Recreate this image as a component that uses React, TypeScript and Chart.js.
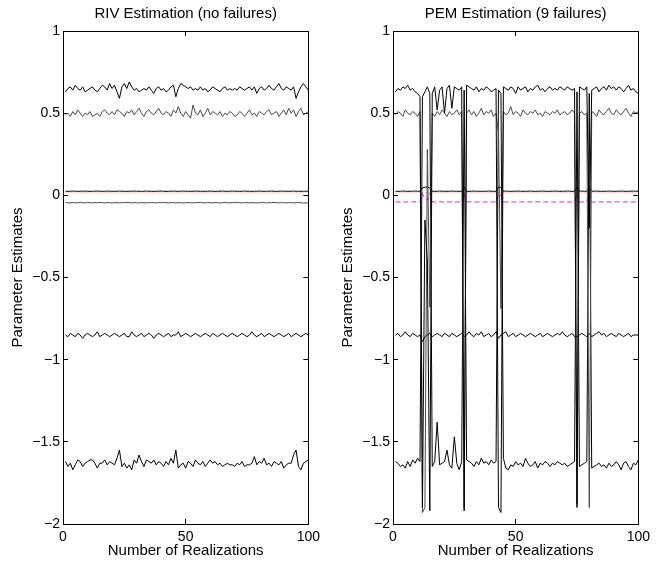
import React, { useEffect, useRef } from 'react';
import { Chart, registerables } from 'chart.js';

Chart.register(...registerables);

const FONT = '"Liberation Sans", Arial, Helvetica, sans-serif';

const PANEL_TITLES = ['RIV Estimation (no failures)', 'PEM Estimation (9 failures)'];
const X_TITLE = 'Number of Realizations';
const Y_TITLE = 'Parameter Estimates';
const X_TICKS = [0, 50, 100];
const Y_TICKS = [-2, -1.5, -1, -0.5, 0, 0.5, 1];

const REALIZATIONS = Array.from({ length: 100 }, (_, i) => i + 1);

// reference (true) value line
const TRUE_C = 0.015;

// ---------- RIV (left) ----------
const RIV_A = [
  0.63, 0.65, 0.66, 0.64, 0.67, 0.65, 0.64, 0.66, 0.63, 0.64,
  0.65, 0.66, 0.64, 0.63, 0.65, 0.67, 0.66, 0.64, 0.68, 0.65,
  0.67, 0.63, 0.59, 0.66, 0.68, 0.65, 0.69, 0.66, 0.64, 0.65,
  0.63, 0.64, 0.65, 0.64, 0.66, 0.64, 0.62, 0.65, 0.66, 0.64,
  0.65, 0.63, 0.64, 0.66, 0.67, 0.60, 0.65, 0.68, 0.67, 0.66,
  0.65, 0.66, 0.64, 0.65, 0.64, 0.66, 0.64, 0.65, 0.63, 0.64,
  0.66, 0.65, 0.64, 0.63, 0.65, 0.66, 0.64, 0.65, 0.64, 0.65,
  0.64, 0.66, 0.65, 0.64, 0.65, 0.66, 0.64, 0.66, 0.62, 0.65,
  0.66, 0.64, 0.65, 0.67, 0.65, 0.64, 0.66, 0.68, 0.65, 0.64,
  0.66, 0.65, 0.64, 0.66, 0.59, 0.63, 0.66, 0.68, 0.66, 0.64,
];
const RIV_B = [
  0.49, 0.50, 0.48, 0.51, 0.49, 0.52, 0.50, 0.48, 0.50, 0.49,
  0.51, 0.48, 0.49, 0.50, 0.48, 0.51, 0.52, 0.50, 0.49, 0.51,
  0.49, 0.52, 0.51, 0.50, 0.48, 0.51, 0.50, 0.52, 0.49, 0.51,
  0.53, 0.50, 0.48, 0.51, 0.52, 0.50, 0.49, 0.51, 0.53, 0.50,
  0.49, 0.51, 0.50, 0.48, 0.52, 0.50, 0.54, 0.50, 0.48, 0.51,
  0.49, 0.47, 0.55, 0.50, 0.49, 0.52, 0.48, 0.50, 0.53, 0.49,
  0.51, 0.50, 0.49, 0.51, 0.48, 0.50, 0.49, 0.51, 0.50, 0.48,
  0.49, 0.51, 0.50, 0.48, 0.50, 0.52, 0.49, 0.50, 0.48, 0.51,
  0.50, 0.49, 0.51, 0.52, 0.49, 0.50, 0.51, 0.48, 0.50, 0.52,
  0.49, 0.53, 0.50, 0.52, 0.48, 0.51, 0.53, 0.49, 0.50, 0.51,
];
const RIV_C = [
  0.025, 0.024, 0.025, 0.026, 0.025, 0.024, 0.025, 0.025, 0.026, 0.025,
  0.024, 0.025, 0.025, 0.026, 0.025, 0.024, 0.025, 0.026, 0.025, 0.025,
  0.024, 0.025, 0.026, 0.025, 0.025, 0.024, 0.025, 0.025, 0.026, 0.025,
  0.025, 0.024, 0.025, 0.026, 0.025, 0.025, 0.024, 0.025, 0.025, 0.026,
  0.025, 0.024, 0.025, 0.025, 0.026, 0.025, 0.024, 0.025, 0.026, 0.025,
  0.025, 0.024, 0.025, 0.026, 0.025, 0.025, 0.024, 0.025, 0.025, 0.026,
  0.025, 0.024, 0.025, 0.025, 0.026, 0.025, 0.024, 0.025, 0.026, 0.025,
  0.025, 0.024, 0.025, 0.026, 0.025, 0.025, 0.024, 0.025, 0.025, 0.026,
  0.025, 0.024, 0.025, 0.025, 0.026, 0.025, 0.024, 0.025, 0.026, 0.025,
  0.025, 0.024, 0.025, 0.026, 0.025, 0.025, 0.024, 0.025, 0.025, 0.025,
];
const RIV_D = [
  -0.044, -0.046, -0.045, -0.044, -0.046, -0.045, -0.043, -0.045, -0.046, -0.044,
  -0.045, -0.046, -0.044, -0.045, -0.043, -0.045, -0.046, -0.044, -0.045, -0.046,
  -0.044, -0.045, -0.046, -0.045, -0.044, -0.043, -0.045, -0.046, -0.044, -0.045,
  -0.046, -0.044, -0.045, -0.046, -0.045, -0.044, -0.045, -0.046, -0.044, -0.045,
  -0.043, -0.045, -0.046, -0.044, -0.045, -0.046, -0.044, -0.045, -0.046, -0.045,
  -0.044, -0.045, -0.046, -0.044, -0.045, -0.043, -0.045, -0.046, -0.044, -0.045,
  -0.046, -0.044, -0.045, -0.046, -0.045, -0.044, -0.045, -0.046, -0.044, -0.045,
  -0.043, -0.045, -0.046, -0.044, -0.045, -0.046, -0.044, -0.045, -0.046, -0.045,
  -0.044, -0.045, -0.046, -0.044, -0.045, -0.043, -0.045, -0.046, -0.044, -0.045,
  -0.046, -0.044, -0.045, -0.046, -0.045, -0.044, -0.045, -0.047, -0.046, -0.046,
];
const RIV_E = [
  -0.85, -0.86, -0.84, -0.85, -0.86, -0.84, -0.85, -0.87, -0.85, -0.84,
  -0.85, -0.86, -0.85, -0.83, -0.86, -0.85, -0.84, -0.85, -0.86, -0.85,
  -0.84, -0.85, -0.86, -0.85, -0.84, -0.86, -0.86, -0.83, -0.85, -0.86,
  -0.85, -0.84, -0.86, -0.85, -0.84, -0.85, -0.87, -0.85, -0.84, -0.85,
  -0.86, -0.85, -0.84, -0.86, -0.85, -0.85, -0.83, -0.86, -0.85, -0.84,
  -0.85, -0.86, -0.85, -0.84, -0.85, -0.86, -0.85, -0.84, -0.85, -0.86,
  -0.84, -0.85, -0.86, -0.85, -0.84, -0.85, -0.86, -0.85, -0.84, -0.85,
  -0.86, -0.85, -0.84, -0.85, -0.86, -0.85, -0.83, -0.85, -0.86, -0.85,
  -0.84, -0.86, -0.85, -0.84, -0.85, -0.86, -0.85, -0.84, -0.85, -0.86,
  -0.85, -0.84, -0.86, -0.85, -0.84, -0.85, -0.86, -0.85, -0.84, -0.85,
];
const RIV_F = [
  -1.62, -1.65, -1.63, -1.67, -1.64, -1.61, -1.62, -1.65, -1.63, -1.62,
  -1.61, -1.61, -1.63, -1.66, -1.63, -1.63, -1.61, -1.64, -1.62, -1.63,
  -1.64, -1.60, -1.55, -1.65, -1.63, -1.66, -1.64, -1.67, -1.61, -1.63,
  -1.58, -1.62, -1.65, -1.61, -1.62, -1.63, -1.61, -1.64, -1.62, -1.63,
  -1.65, -1.62, -1.64, -1.60, -1.63, -1.55, -1.66, -1.64, -1.63, -1.66,
  -1.62, -1.63, -1.65, -1.61, -1.63, -1.64, -1.62, -1.65, -1.63, -1.61,
  -1.63, -1.62, -1.64, -1.63, -1.65, -1.64, -1.63, -1.64, -1.64, -1.65,
  -1.63, -1.64, -1.62, -1.65, -1.64, -1.64, -1.63, -1.59, -1.64, -1.62,
  -1.63, -1.60, -1.64, -1.63, -1.65, -1.62, -1.63, -1.64, -1.62, -1.66,
  -1.64, -1.63, -1.63, -1.58, -1.55, -1.65, -1.67, -1.63, -1.62, -1.61,
];

// ---------- PEM (right), failures at 12-15, 29, 43-44, 75, 80 ----------
const PEM_A = [
  0.63, 0.65, 0.64, 0.66, 0.65, 0.67, 0.64, 0.65, 0.63, 0.62,
  0.60, -1.90, -0.15, -0.40, -1.92, 0.62, 0.66, 0.52, 0.64, 0.66,
  0.50, 0.65, 0.67, 0.53, 0.66, 0.65, 0.64, 0.66, -1.92, 0.67,
  0.66, 0.65, 0.64, 0.66, 0.63, 0.65, 0.64, 0.66, 0.65, 0.63,
  0.64, 0.65, -1.90, -1.93, 0.66, 0.65, 0.64, 0.66, 0.65, 0.62,
  0.66, 0.64, 0.65, 0.66, 0.63, 0.65, 0.64, 0.66, 0.67, 0.64,
  0.65, 0.63, 0.65, 0.66, 0.64, 0.65, 0.64, 0.66, 0.65, 0.64,
  0.66, 0.65, 0.64, 0.65, -1.90, 0.66, 0.65, 0.64, 0.66, -0.20,
  0.64, 0.65, 0.66, 0.63, 0.65, 0.66, 0.64, 0.67, 0.65, 0.66,
  0.64, 0.66, 0.65, 0.63, 0.65, 0.67, 0.64, 0.65, 0.63, 0.62,
];
const PEM_B = [
  0.49, 0.51, 0.50, 0.48, 0.52, 0.50, 0.49, 0.51, 0.50, 0.48,
  0.51, -1.93, -1.90, 0.28, -0.68, 0.50, 0.48, 0.51, 0.49, 0.52,
  0.50, 0.48, 0.51, 0.49, 0.50, 0.52, 0.49, 0.51, -1.90, 0.50,
  0.52, 0.49, 0.51, 0.48, 0.50, 0.53, 0.49, 0.51, 0.50, 0.52,
  0.48, 0.50, 0.38, -0.69, 0.51, 0.49, 0.50, 0.54, 0.49, 0.51,
  0.50, 0.48, 0.52, 0.50, 0.49, 0.51, 0.50, 0.52, 0.49, 0.50,
  0.48, 0.51, 0.50, 0.49, 0.51, 0.50, 0.52, 0.49, 0.50, 0.51,
  0.49, 0.50, 0.52, 0.50, -1.88, 0.50, 0.51, 0.49, 0.50, -1.90,
  0.51, 0.50, 0.48, 0.52, 0.50, 0.49, 0.51, 0.53, 0.50, 0.49,
  0.52, 0.50, 0.49, 0.51, 0.53, 0.50, 0.48, 0.51, 0.50, 0.51,
];
const PEM_C = [
  0.025, 0.024, 0.025, 0.026, 0.025, 0.024, 0.025, 0.025, 0.026, 0.025,
  0.025, 0.045, 0.050, 0.050, 0.045, 0.025, 0.024, 0.025, 0.026, 0.025,
  0.025, 0.024, 0.025, 0.026, 0.025, 0.025, 0.024, 0.025, 0.050, 0.025,
  0.024, 0.025, 0.026, 0.025, 0.025, 0.024, 0.025, 0.025, 0.026, 0.025,
  0.024, 0.025, 0.050, 0.048, 0.025, 0.026, 0.025, 0.024, 0.025, 0.025,
  0.026, 0.025, 0.024, 0.025, 0.025, 0.026, 0.025, 0.024, 0.025, 0.025,
  0.026, 0.025, 0.024, 0.025, 0.025, 0.026, 0.025, 0.024, 0.025, 0.025,
  0.026, 0.025, 0.024, 0.025, 0.050, 0.025, 0.026, 0.025, 0.024, 0.050,
  0.025, 0.025, 0.026, 0.025, 0.024, 0.025, 0.025, 0.026, 0.025, 0.024,
  0.025, 0.025, 0.026, 0.025, 0.024, 0.025, 0.025, 0.026, 0.025, 0.025,
];
const PEM_D = [
  -0.040, -0.041, -0.040, -0.039, -0.041, -0.040, -0.041, -0.040, -0.039, -0.040,
  -0.040, 0.010, -0.020, -0.030, 0.010, -0.040, -0.041, -0.040, -0.039, -0.040,
  -0.041, -0.040, -0.040, -0.039, -0.041, -0.040, -0.040, -0.041, 0.010, -0.040,
  -0.039, -0.040, -0.041, -0.040, -0.040, -0.039, -0.041, -0.040, -0.040, -0.041,
  -0.040, -0.040, 0.010, 0.000, -0.040, -0.041, -0.040, -0.039, -0.040, -0.041,
  -0.040, -0.040, -0.039, -0.041, -0.040, -0.040, -0.041, -0.040, -0.039, -0.040,
  -0.041, -0.040, -0.040, -0.039, -0.041, -0.040, -0.040, -0.041, -0.040, -0.039,
  -0.040, -0.041, -0.040, -0.040, 0.010, -0.040, -0.041, -0.040, -0.039, 0.010,
  -0.040, -0.041, -0.040, -0.040, -0.039, -0.041, -0.040, -0.040, -0.041, -0.040,
  -0.039, -0.040, -0.041, -0.040, -0.040, -0.039, -0.041, -0.040, -0.040, -0.041,
];
const PEM_E = [
  -0.85, -0.84, -0.86, -0.85, -0.83, -0.85, -0.86, -0.84, -0.85, -0.86,
  -0.85, -0.89, -0.86, -0.85, -0.84, -0.86, -0.85, -0.84, -0.85, -0.86,
  -0.84, -0.85, -0.86, -0.84, -0.85, -0.86, -0.85, -0.84, -0.86, -0.85,
  -0.83, -0.85, -0.86, -0.84, -0.85, -0.83, -0.86, -0.85, -0.84, -0.86,
  -0.85, -0.83, -0.87, -0.85, -0.84, -0.83, -0.86, -0.85, -0.84, -0.86,
  -0.85, -0.84, -0.85, -0.86, -0.85, -0.84, -0.85, -0.86, -0.85, -0.84,
  -0.86, -0.85, -0.84, -0.85, -0.86, -0.85, -0.84, -0.85, -0.83, -0.85,
  -0.86, -0.85, -0.84, -0.86, -0.86, -0.85, -0.84, -0.85, -0.86, -0.84,
  -0.86, -0.85, -0.84, -0.83, -0.85, -0.84, -0.86, -0.85, -0.84, -0.85,
  -0.86, -0.84, -0.85, -0.86, -0.85, -0.84, -0.86, -0.85, -0.85, -0.85,
];
const PEM_F = [
  -1.62, -1.63, -1.65, -1.64, -1.66, -1.62, -1.65, -1.61, -1.63, -1.60,
  -1.62, 0.60, 0.63, 0.66, 0.62, -1.65, -1.62, -1.38, -1.64, -1.63,
  -1.62, -1.55, -1.64, -1.66, -1.47, -1.63, -1.67, -1.62, 0.64, -1.61,
  -1.62, -1.63, -1.65, -1.62, -1.64, -1.60, -1.63, -1.62, -1.64, -1.61,
  -1.63, -1.62, 0.64, 0.62, -1.60, -1.66, -1.67, -1.64, -1.65, -1.62,
  -1.64, -1.63, -1.65, -1.60, -1.63, -1.65, -1.64, -1.62, -1.66, -1.63,
  -1.64, -1.62, -1.63, -1.65, -1.63, -1.64, -1.62, -1.63, -1.64, -1.63,
  -1.65, -1.64, -1.63, -1.62, 0.63, -1.65, -1.64, -1.63, -1.62, 0.62,
  -1.66, -1.65, -1.64, -1.63, -1.65, -1.64, -1.66, -1.63, -1.65, -1.64,
  -1.62, -1.64, -1.67, -1.63, -1.62, -1.65, -1.67, -1.63, -1.64, -1.61,
];

const toPoints = (vals: number[]) => vals.map((y, i) => ({ x: REALIZATIONS[i], y }));
const constPoints = (v: number) => REALIZATIONS.map((x) => ({ x, y: v }));

function line(vals: number[], color: string, dash: number[] = []) {
  return {
    data: toPoints(vals),
    borderColor: color,
    borderWidth: 1,
    borderDash: dash,
    pointRadius: 0,
    tension: 0,
    fill: false,
    xAxisID: 'x',
    yAxisID: 'y',
  };
}
function refLine(v: number, color: string, dash: number[]) {
  return { ...line([], color, dash), data: constPoints(v) };
}

const fmt = (v: number) => (v < 0 ? '\u2212' + Math.abs(v) : String(v));

function buildOptions(title: string) {
  const tickFont = { family: FONT, size: 14 };
  const grid = { display: true, drawOnChartArea: false, drawTicks: true, tickLength: -5, color: '#000', lineWidth: 1 };
  const border = { display: true, color: '#000', width: 1 };
  return {
    responsive: false,
    animation: false,
    events: [],
    layout: { padding: { left: 0, right: 21, top: 0, bottom: 0 } },
    plugins: {
      legend: { display: false },
      tooltip: { enabled: false },
      title: {
        display: true,
        fullSize: false,
        text: title,
        color: '#000',
        font: { family: FONT, size: 15, weight: 'normal' },
        padding: { top: 5, bottom: 8 },
      },
    },
    scales: {
      x: {
        type: 'linear',
        position: 'bottom',
        min: X_TICKS[0],
        max: X_TICKS[X_TICKS.length - 1],
        afterBuildTicks: (s: any) => { s.ticks = X_TICKS.map((v) => ({ value: v })); },
        ticks: { color: '#000', font: tickFont, padding: 10, maxRotation: 0, autoSkip: false },
        grid,
        border,
        title: { display: true, text: X_TITLE, color: '#000', font: { family: FONT, size: 15 }, padding: { top: 0, bottom: 1 } },
        afterFit: (s: any) => { s.height = 37; },
      },
      x2: {
        type: 'linear',
        position: 'top',
        min: X_TICKS[0],
        max: X_TICKS[X_TICKS.length - 1],
        afterBuildTicks: (s: any) => { s.ticks = X_TICKS.map((v) => ({ value: v })); },
        ticks: { display: false },
        grid,
        border,
        afterFit: (s: any) => { s.height = 0; },
      },
      y: {
        type: 'linear',
        position: 'left',
        min: Y_TICKS[0],
        max: Y_TICKS[Y_TICKS.length - 1],
        afterBuildTicks: (s: any) => { s.ticks = Y_TICKS.map((v) => ({ value: v })); },
        ticks: { color: '#000', font: tickFont, padding: 8, callback: (v: number) => fmt(v) },
        grid,
        border,
        title: { display: true, text: Y_TITLE, color: '#000', font: { family: FONT, size: 15 }, padding: { top: 9, bottom: 0 } },
        afterFit: (s: any) => { s.width = 63; },
      },
      y2: {
        type: 'linear',
        position: 'right',
        min: Y_TICKS[0],
        max: Y_TICKS[Y_TICKS.length - 1],
        afterBuildTicks: (s: any) => { s.ticks = Y_TICKS.map((v) => ({ value: v })); },
        ticks: { display: false },
        grid,
        border,
        afterFit: (s: any) => { s.width = 0; },
      },
    },
  };
}

function Panel({ title, datasets, left }: { title: string; datasets: any[]; left: number }) {
  const ref = useRef<HTMLCanvasElement>(null);
  useEffect(() => {
    if (!ref.current) return;
    const chart = new Chart(ref.current, {
      type: 'line',
      data: { datasets },
      options: buildOptions(title) as any,
    });
    return () => chart.destroy();
  }, []);
  return (
    <canvas
      ref={ref}
      width={330}
      height={561}
      style={{ position: 'absolute', left, top: 0, width: 330, height: 561 }}
    />
  );
}

const GRAY = '#4a4a4a';

export default function App() {
  const rivSets = [
    line(RIV_A, '#000'),
    line(RIV_B, GRAY),
    line(RIV_C, '#000'),
    line(RIV_D, GRAY),
    line(RIV_E, '#000'),
    line(RIV_F, '#000'),
    refLine(TRUE_C, '#ff7070', [1, 2]),
  ];
  const pemSets = [
    line(PEM_A, '#000'),
    line(PEM_B, GRAY),
    line(PEM_C, '#000'),
    line(PEM_E, '#000'),
    line(PEM_F, '#000'),
    refLine(TRUE_C, '#ff7070', [1, 2]),
    line(PEM_D, '#e020e0', [5, 3]),
  ];
  return (
    <div style={{ position: 'fixed', left: 0, top: 0, width: 664, height: 561, background: '#fff' }}>
      <Panel title={PANEL_TITLES[0]} datasets={rivSets} left={0} />
      <Panel title={PANEL_TITLES[1]} datasets={pemSets} left={330} />
    </div>
  );
}
